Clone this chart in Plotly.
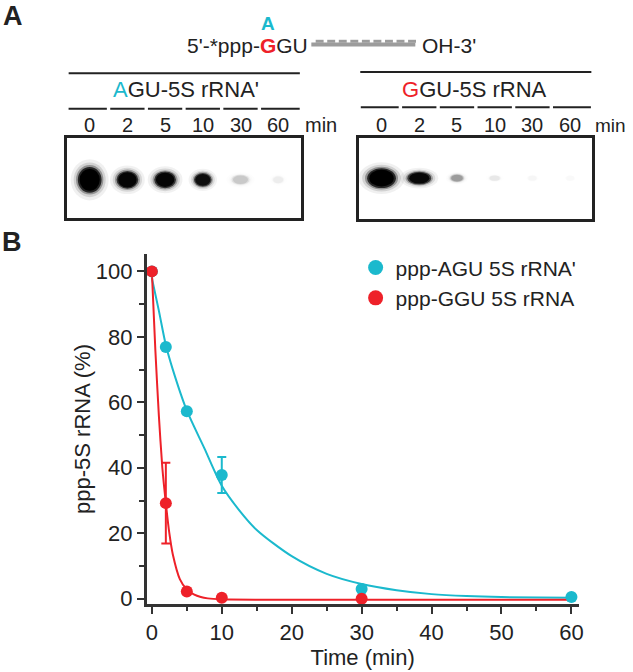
import plotly.graph_objects as go

W, H = 633, 672

# ------------------------------------------------------------------ data
lane_labels = ["0", "2", "5", "10", "30", "60"]
agu_band_intensity = [1.0, 0.9, 0.9, 0.8, 0.1, 0.03]
ggu_band_intensity = [1.0, 0.85, 0.2, 0.04, 0.015, 0.01]

series_names = ["ppp-AGU 5S rRNA'", "ppp-GGU 5S rRNA"]

agu_time = [0, 2, 5, 10, 30, 60]
agu_pct = [100, 76.9, 57.3, 37.8, 3.0, 0.5]
agu_err = [0, 0, 0, 5.5, 0, 0]

ggu_time = [0, 2, 5, 10, 30]
ggu_pct = [100, 29.2, 2.2, 0.3, 0.0]
ggu_err = [0, 12.3, 0, 0, 0]

agu_fit_t = [0, 1, 2, 3, 5, 7.5, 10, 12.5, 15, 20, 25, 30, 35, 40, 45, 50, 60]
agu_fit_y = [98, 88, 77.5, 70, 57.5, 46, 34.5, 27, 21, 13, 7.6, 4.5, 2.6, 1.4, 0.8, 0.5, 0.3]

ggu_fit_t = [0, 0.5, 1, 1.5, 2, 2.5, 3, 4, 5, 6, 7, 8, 10, 15, 20, 30, 40, 50, 60]
ggu_fit_y = [100, 76, 56, 40, 29.2, 20, 13.5, 6, 2.8, 1.3, 0.5, 0.1, -0.2, -0.3, -0.3, -0.3, -0.3, -0.3, -0.3]

x_ticks = [0, 10, 20, 30, 40, 50, 60]
x_minor = [5, 15, 25, 35, 45, 55]
y_ticks = [0, 20, 40, 60, 80, 100]
y_minor = [10, 30, 50, 70, 90]

# ------------------------------------------------------------------ styles
CYAN = "#1bb9cd"
RED = "#ee2129"
INK = "#222222"
AXC = "#333333"
FONT = "Liberation Sans, Arial, Helvetica, sans-serif"

# band sizes in px (width, height) -- styling only
LEFT_BAND_SIZE = [(24, 26), (22, 18), (22, 17), (18, 14), (18, 10), (12, 8)]
RIGHT_BAND_SIZE = [(29, 20), (24, 13), (14, 8), (12, 6), (10, 6), (10, 6)]
BAND_LAYERS = [(1.6, 0.06), (1.35, 0.12), (1.15, 0.3), (1.0, 0.75), (0.85, 1.0)]


def px(x):
    return x / W


def py(y):
    return 1 - y / H


LANE_PX = 38.1  # px per lane unit
GEL_L_RANGE = [-0.6, 5.6]
GEL_R_RANGE = [-0.59, 5.58]

fig = go.Figure()

# ---------------------------------------------------------------- panel B traces
fig.add_trace(go.Scatter(x=agu_fit_t, y=agu_fit_y, mode="lines",
                         line=dict(color=CYAN, width=2, shape="spline", smoothing=0.8),
                         showlegend=False, hoverinfo="skip", xaxis="x", yaxis="y"))
fig.add_trace(go.Scatter(x=ggu_fit_t, y=ggu_fit_y, mode="lines",
                         line=dict(color=RED, width=2, shape="spline", smoothing=0.6),
                         showlegend=False, hoverinfo="skip", xaxis="x", yaxis="y"))
fig.add_trace(go.Scatter(x=agu_time, y=agu_pct, mode="markers",
                         marker=dict(color=CYAN, size=12),
                         error_y=dict(type="data", array=agu_err, color=CYAN,
                                      thickness=2, width=4.5),
                         name=series_names[0], showlegend=False, xaxis="x", yaxis="y"))
fig.add_trace(go.Scatter(x=ggu_time, y=ggu_pct, mode="markers",
                         marker=dict(color=RED, size=12),
                         error_y=dict(type="data", array=ggu_err, color=RED,
                                      thickness=2, width=4.5),
                         name=series_names[1], showlegend=False, xaxis="x", yaxis="y"))
# legend entries
for nm, col in zip(series_names, [CYAN, RED]):
    fig.add_trace(go.Scatter(x=[None], y=[None], mode="markers",
                             marker=dict(color=col, size=15), name=nm,
                             showlegend=True, xaxis="x", yaxis="y"))

# ---------------------------------------------------------------- gel axes traces
lanes = list(range(len(lane_labels)))
fig.add_trace(go.Scatter(x=lanes, y=[0.5] * len(lanes), mode="markers",
                         marker=dict(opacity=0), showlegend=False, hoverinfo="skip",
                         xaxis="x2", yaxis="y2"))
fig.add_trace(go.Scatter(x=lanes, y=[0.5] * len(lanes), mode="markers",
                         marker=dict(opacity=0), showlegend=False, hoverinfo="skip",
                         xaxis="x3", yaxis="y3"))

shapes = []
annotations = []


def gel_bands(xref, yref, intensities, sizes, yc, gel_h_px):
    for i, (inten, (w, h)) in enumerate(zip(intensities, sizes)):
        for s, a in BAND_LAYERS:
            hw = (w * s / 2) / LANE_PX
            hh = (h * s / 2) / gel_h_px
            shapes.append(dict(type="circle", xref=xref, yref=yref,
                               x0=i - hw, x1=i + hw, y0=yc - hh, y1=yc + hh,
                               fillcolor=f"rgba(0,0,0,{a * inten:.3f})",
                               line=dict(width=0), layer="above"))


gel_bands("x2", "y2", agu_band_intensity, LEFT_BAND_SIZE, 0.479, 81.4)
gel_bands("x3", "y3", ggu_band_intensity, RIGHT_BAND_SIZE, 0.506, 82.4)


def lane_header(xref, rng, seg_y, label_y, long_y, long_x0, long_x1):
    shapes.append(dict(type="line", xref="paper", yref="paper",
                       x0=px(long_x0), x1=px(long_x1), y0=py(long_y), y1=py(long_y),
                       line=dict(color=INK, width=2)))
    n = len(lane_labels)
    for i, lab in enumerate(lane_labels):
        left = i - 0.5 + 0.045 if i > 0 else rng[0] + 0.04
        right = i + 0.5 - 0.045 if i < n - 1 else rng[1] - 0.03
        shapes.append(dict(type="line", xref=xref, yref="paper",
                           x0=left, x1=right, y0=py(seg_y), y1=py(seg_y),
                           line=dict(color=INK, width=2)))
        annotations.append(dict(x=i, y=py(label_y), xref=xref, yref="paper",
                                text=lab, showarrow=False,
                                font=dict(size=20, color=INK, family=FONT),
                                xanchor="center", yanchor="middle"))


lane_header("x2", GEL_L_RANGE, 110, 126.7, 74, 68.3, 301.7)
lane_header("x3", GEL_R_RANGE, 108.3, 126.7, 72.7, 362.7, 596)

# "min" labels
annotations.append(dict(x=px(305), y=py(126.7), xref="paper", yref="paper", text="min",
                        showarrow=False, xanchor="left", yanchor="middle",
                        font=dict(size=20, color=INK, family=FONT)))
annotations.append(dict(x=px(598), y=py(126.7), xref="paper", yref="paper", text="min",
                        showarrow=False, xanchor="left", yanchor="middle",
                        font=dict(size=19, color=INK, family=FONT)))

# gel headers
annotations.append(dict(x=px(187), y=py(90.7), xref="paper", yref="paper",
                        text=f"<span style='color:{CYAN}'>A</span>GU-5S rRNA'",
                        showarrow=False, xanchor="center", yanchor="middle",
                        font=dict(size=22, color=INK, family=FONT)))
annotations.append(dict(x=px(478.3), y=py(90.7), xref="paper", yref="paper",
                        text=f"<span style='color:{RED}'>G</span>GU-5S rRNA",
                        showarrow=False, xanchor="center", yanchor="middle",
                        font=dict(size=22, color=INK, family=FONT)))

# construct schematic
annotations.append(dict(x=px(312), y=py(46), xref="paper", yref="paper",
                        text=f"5'-*ppp-<b><span style='color:{RED}'>G</span></b>GU",
                        showarrow=False, xanchor="right", yanchor="middle",
                        font=dict(size=21, color=INK, family=FONT)))
annotations.append(dict(x=px(270), y=py(24), xref="paper", yref="paper",
                        text="<b>A</b>", showarrow=False, xanchor="center", yanchor="middle",
                        font=dict(size=19, color=CYAN, family=FONT)))
annotations.append(dict(x=px(423), y=py(46), xref="paper", yref="paper",
                        text="OH-3'", showarrow=False, xanchor="left", yanchor="middle",
                        font=dict(size=21, color=INK, family=FONT)))
shapes.append(dict(type="rect", xref="paper", yref="paper",
                   x0=px(313.3), x1=px(418.3), y0=py(47), y1=py(43),
                   fillcolor="#9c9c9c", line=dict(width=0)))
for k in range(9):
    cx = 321.7 + 11.66 * k
    shapes.append(dict(type="rect", xref="paper", yref="paper",
                       x0=px(cx - 4), x1=px(cx + 4), y0=py(43.2), y1=py(40.2),
                       fillcolor="#9c9c9c", line=dict(width=0)))

# panel letters
annotations.append(dict(x=px(12.5), y=py(-1), xref="paper", yref="paper", text="<b>A</b>",
                        showarrow=False, xanchor="center", yanchor="top",
                        font=dict(size=27, color=INK, family=FONT)))
annotations.append(dict(x=px(11), y=py(245), xref="paper", yref="paper", text="<b>B</b>",
                        showarrow=False, xanchor="center", yanchor="middle",
                        font=dict(size=27, color=INK, family=FONT)))

gel_axis = dict(showline=True, mirror=True, linecolor=INK, linewidth=2.5,
                showticklabels=False, ticks="", showgrid=False, zeroline=False,
                fixedrange=True)

fig.update_layout(
    width=W, height=H,
    margin=dict(l=0, r=0, t=0, b=0),
    paper_bgcolor="white", plot_bgcolor="white",
    font=dict(family=FONT, color=INK),
    showlegend=True,
    legend=dict(x=px(358), y=py(250), xanchor="left", yanchor="top",
                font=dict(size=21, color=INK, family=FONT),
                bgcolor="rgba(0,0,0,0)", borderwidth=0, tracegroupgap=0),
    xaxis=dict(domain=[px(147), px(583.3)], range=[-0.75, 61.05],
               tickvals=x_ticks, ticks="outside", ticklen=7, tickwidth=2, tickcolor=AXC,
               minor=dict(tickvals=x_minor, ticks="outside", ticklen=4, tickwidth=2,
                          tickcolor=AXC, showgrid=False),
               showline=True, linecolor=AXC, linewidth=2.5, showgrid=False, zeroline=False,
               tickfont=dict(size=22, color=INK, family=FONT),
               title=dict(text="Time (min)", font=dict(size=22, color=INK, family=FONT),
                          standoff=0),
               anchor="y"),
    yaxis=dict(domain=[py(610.3), py(256.7)], range=[-1.6, 105.3],
               tickvals=y_ticks, ticks="outside", ticklen=7, tickwidth=2, tickcolor=AXC,
               minor=dict(tickvals=y_minor, ticks="outside", ticklen=5, tickwidth=2,
                          tickcolor=AXC, showgrid=False),
               showline=True, linecolor=AXC, linewidth=2.5, showgrid=False, zeroline=False,
               tickfont=dict(size=22, color=INK, family=FONT),
               title=dict(text="ppp-5S rRNA (%)", font=dict(size=22, color=INK, family=FONT),
                          standoff=0),
               anchor="x"),
    xaxis2=dict(domain=[px(66.7), px(302.7)], range=GEL_L_RANGE, anchor="y2", **gel_axis),
    yaxis2=dict(domain=[py(220.7), py(139.3)], range=[0, 1], anchor="x2", **gel_axis),
    xaxis3=dict(domain=[px(361.7), px(596.7)], range=GEL_R_RANGE, anchor="y3", **gel_axis),
    yaxis3=dict(domain=[py(221.7), py(139.3)], range=[0, 1], anchor="x3", **gel_axis),
    shapes=shapes,
    annotations=annotations,
)

fig.write_html("out.html", config={"displayModeBar": False},
               post_script="document.body.style.margin='0px';document.body.style.padding='0px';")
